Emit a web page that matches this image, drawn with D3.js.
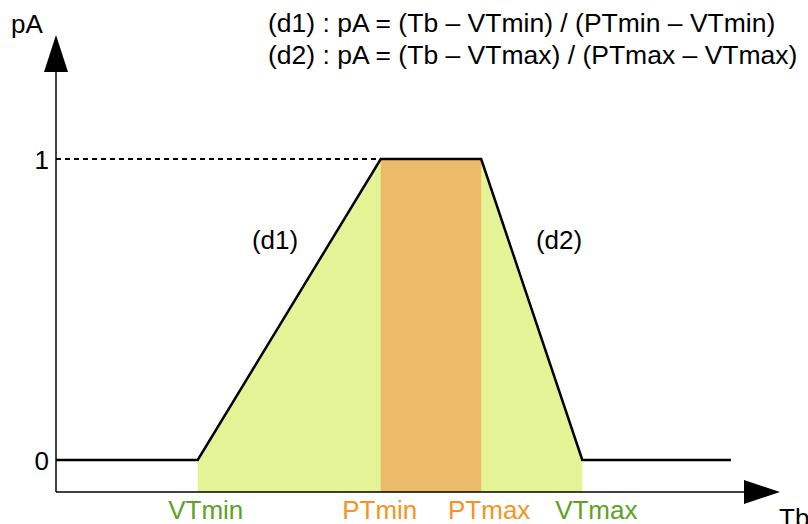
<!DOCTYPE html>
<html><head><meta charset="utf-8">
<script src="https://cdn.jsdelivr.net/npm/d3@7"></script>
<style>body{margin:0;background:#fff}svg{display:block}text{font-family:"Liberation Sans",Arial,sans-serif}</style>
</head><body>
<script>
// Data
const tbKeys = ["start", "VTmin", "PTmin", "PTmax", "VTmax", "end"];
const tbValues = [0, 20.6, 47.2, 61.8, 76.5, 98.1];
const pAValues = [0, 0, 1, 1, 0, 0];
const yTickLabels = ["0", "1"];
const yTickValues = [0, 1];
const greenLabels = ["VTmin", "VTmax"];
const orangeLabels = ["PTmin", "PTmax"];
const formulas = ["(d1) : pA = (Tb – VTmin) / (PTmin – VTmin)", "(d2) : pA = (Tb – VTmax) / (PTmax – VTmax)"];

const W = 808, H = 524;
const FS = 26;
const axisX = 56, axisY = 492;
const labelDx = { VTmin: 8, PTmin: -1, PTmax: 8, VTmax: 14 };
const x = d3.scaleLinear().domain([0, 100]).range([56, 744]);
const y = d3.scaleLinear().domain([0, 1]).range([460, 159]);
const tb = Object.fromEntries(tbKeys.map((k, i) => [k, tbValues[i]]));

const svg = d3.select("body").append("svg").attr("width", W).attr("height", H);

// green polygon
const pts = tbKeys.map((k, i) => [x(tbValues[i]), y(pAValues[i])]);
const green = [[x(tb.VTmin), axisY], [x(tb.VTmin), y(0)], [x(tb.PTmin), y(1)], [x(tb.PTmax), y(1)], [x(tb.VTmax), y(0)], [x(tb.VTmax), axisY]];
svg.append("path").attr("d", d3.line()(green) + "Z").attr("fill", "#e3f395");
svg.append("rect").attr("x", x(tb.PTmin)).attr("y", y(1)).attr("width", x(tb.PTmax) - x(tb.PTmin)).attr("height", axisY - y(1)).attr("fill", "#ebbb6a");

// dashed line at 1
svg.append("line").attr("x1", axisX).attr("x2", x(tb.PTmin)).attr("y1", y(1)).attr("y2", y(1))
  .attr("stroke", "#000").attr("stroke-width", 2).attr("stroke-dasharray", "5,4");

// curve
svg.append("path").attr("d", d3.line()(pts)).attr("fill", "none").attr("stroke", "#000").attr("stroke-width", 2.5).attr("stroke-linejoin", "miter");

// axes
svg.append("line").attr("x1", axisX).attr("x2", axisX).attr("y1", 70).attr("y2", axisY).attr("stroke", "#000").attr("stroke-width", 1.5);
svg.append("line").attr("x1", axisX).attr("x2", 746).attr("y1", axisY).attr("y2", axisY).attr("stroke", "#000").attr("stroke-width", 1.5);
svg.append("path").attr("d", `M${axisX - 12},72 L${axisX},35 L${axisX + 12},72 Z`).attr("fill", "#000");
svg.append("path").attr("d", `M744,${axisY - 12} L780,${axisY} L744,${axisY + 12} Z`).attr("fill", "#000");

// y ticks
svg.selectAll("text.yt").data(yTickValues).enter().append("text").attr("class", "yt")
  .attr("x", 49).attr("y", d => y(d) + 9.5).attr("text-anchor", "end").attr("font-size", FS).text((d, i) => yTickLabels[i]);

// axis titles
svg.append("text").attr("x", 11).attr("y", 33).attr("font-size", FS).text("pA");
svg.append("text").attr("x", 779).attr("y", 527).attr("font-size", FS).text("Tb");

// x labels
svg.selectAll("text.gl").data(greenLabels).enter().append("text").attr("class", "gl")
  .attr("x", d => x(tb[d]) + labelDx[d]).attr("y", 519).attr("text-anchor", "middle").attr("font-size", FS).attr("fill", "#5ea223").text(d => d);
svg.selectAll("text.ol").data(orangeLabels).enter().append("text").attr("class", "ol")
  .attr("x", d => x(tb[d]) + labelDx[d]).attr("y", 519).attr("text-anchor", "middle").attr("font-size", FS).attr("fill", "#f7941d").text(d => d);

// segment labels
svg.append("text").attr("x", 275).attr("y", 249).attr("text-anchor", "middle").attr("font-size", FS).text("(d1)");
svg.append("text").attr("x", 559).attr("y", 249).attr("text-anchor", "middle").attr("font-size", FS).text("(d2)");

// formulas
svg.selectAll("text.f").data(formulas).enter().append("text").attr("class", "f")
  .attr("x", 268).attr("y", (d, i) => 32 + i * 32).attr("font-size", 26.5).text(d => d);
</script>
</body></html>
